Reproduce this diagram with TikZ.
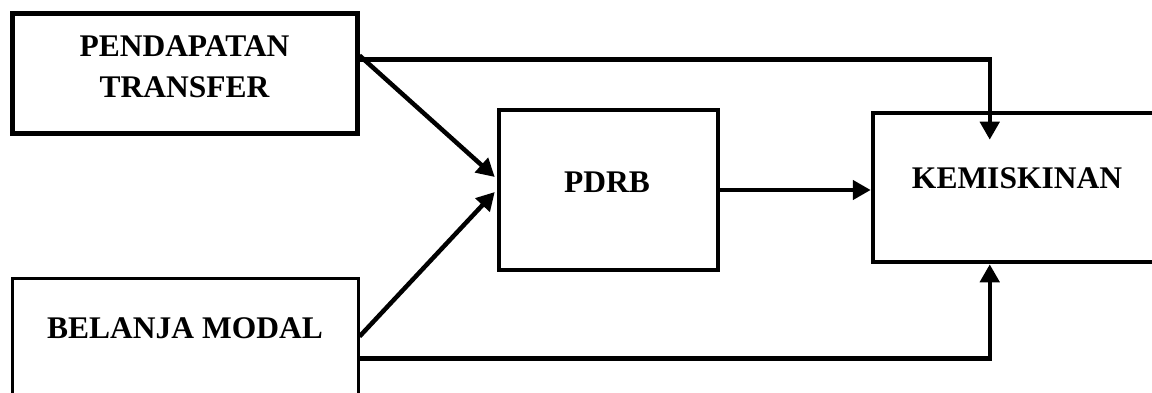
\documentclass[tikz,border=0pt]{standalone}
\usepackage{fontspec}
\setmainfont{Liberation Serif}
\usetikzlibrary{arrows.meta,calc}
\begin{document}
\begin{tikzpicture}[x=1pt,y=-1pt,
  box/.style={draw,rectangle,inner sep=0pt,fill=white,line width=4.5pt},
  lbl/.style={font=\fontsize{31.5}{41}\selectfont\bfseries,align=center,inner sep=0pt},
  conn/.style={line width=4.5pt,-{Triangle[length=18pt,width=19pt]}}]
\useasboundingbox (0,0) rectangle (1152,393);
\clip (0,0) rectangle (1152,393);
\fill[white] (0,0) rectangle (1152,393);

% boxes
\node[box,line width=5pt,minimum width=345pt,minimum height=120pt] (pt) at (184.5,74) {};
\node[box,line width=3pt,minimum width=346pt,minimum height=142pt] (bm) at (185,349) {};
\node[box,minimum width=219pt,minimum height=160pt] (pdrb) at (608.5,190) {};
\node[box,minimum width=297pt,minimum height=149pt] (kem) at (1021.5,187.5) {};

% labels
\node[lbl] (ptl) at (184.5,66.5) {PENDAPATAN\\TRANSFER};
\node[lbl] (bml) at (185,328) {BELANJA MODAL};
\node[lbl] (pdrbl) at (607,182) {PDRB};
\node[lbl] (keml) at (1017,178) {KEMISKINAN};

% connectors
\draw[conn] ($(pt.north east)+(0,48)$) -| ($(kem.north west)+(119,29)$);
\draw[conn] ($(pt.north east)+(0,44)$) -- ($(pdrb.west)+(-2,-13)$);
\draw[conn] ($(bm.north east)+(0,60)$) -- ($(pdrb.west)+(-2,2)$);
\draw[conn] (pdrb.east) -- (pdrb.east -| kem.west);
\draw[conn] ($(bm.north east)+(0,82)$) -| ($(kem.south west)+(119,0)$);
\end{tikzpicture}
\end{document}
